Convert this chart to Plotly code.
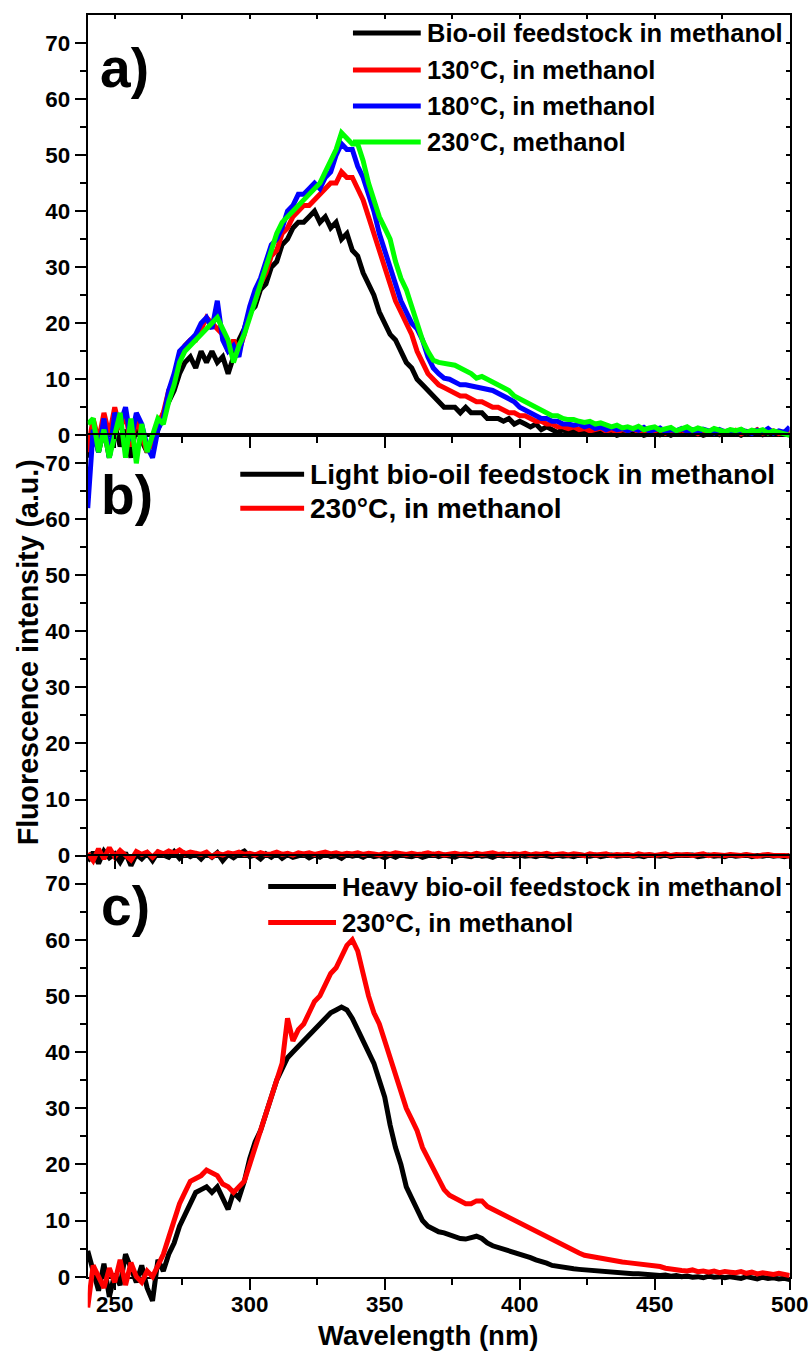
import plotly.graph_objects as go

# ---------------------------------------------------------------------------
# Fluorescence spectra (a.u.) sampled every 2 nm from 240 to 500 nm
# ---------------------------------------------------------------------------
WAVELENGTH = list(range(240, 501, 2))

# a) bio-oil feedstock and its products in methanol
FEED_A = [
    -4, 2, -3, 1, -4, 2, -2, 1, -4, 2,
    -1, -3, -1, 1, 4, 6, 8, 11, 13, 14,
    12, 15, 13, 15, 13, 14, 11, 14, 17, 19,
    22, 23, 26, 27, 30, 31, 34, 35, 37, 38,
    38, 39, 40, 38, 39, 37, 38, 35, 36, 33,
    32, 29, 27, 25, 22, 20, 18, 17, 15, 13,
    12, 10, 9, 8, 7, 6, 5, 5, 5, 4,
    5, 4, 4, 4, 3, 3, 3, 2.5, 3, 2,
    2.5, 2, 1.5, 2, 1, 1.5, 1, 0.5, 1, 0.5,
    0.8, 0.3, 0.6, 0.2, 0.5, 0.8, 0.2, 0.5, 0, 0.4,
    0.6, 0.2, 0.5, 0, 0.3, 0.6, 0.1, 0.4, 0, 0.5,
    0.3, 0.7, 0.2, 0.5, 0, 0.4, 0.6, 0.1, 0.5, 0.2,
    0.4, 0, 0.5, 0.3, 0.6, 0.1, 0.4, 0.2, 0.5, 0.3,
    0.4,
]
T130_A = [
    -3, 3, -1, 4, 0, 5, 1, 4, -2, 3,
    0, -3, -1, 2, 4, 8, 10, 13, 16, 17,
    17, 19, 21, 20, 19, 18, 15, 17, 15, 18,
    22, 24, 27, 29, 32, 33, 36, 37, 39, 40,
    41, 41, 42, 43, 44, 45, 45, 47, 46, 46,
    44, 42, 39, 36, 33, 30, 27, 24, 22, 20,
    18, 15, 13, 11, 10, 9, 8.5, 8, 7.5, 7,
    7, 6.5, 6, 6, 5.5, 5, 5, 4.5, 4, 4,
    3.5, 3.5, 3, 2.5, 2.5, 2, 2, 1.5, 1.5, 1.2,
    1.5, 1, 1.2, 0.8, 1, 1.3, 0.7, 1, 0.6, 1,
    0.8, 1.2, 0.6, 1, 0.5, 0.9, 1.1, 0.4, 0.8, 0.6,
    1, 0.5, 0.8, 0.3, 0.9, 0.6, 1.1, 0.4, 0.7, 0.5,
    0.9, 0.3, 0.7, 0.5, 1, 0.4, 0.6, 0.8, 0.3, 0.6,
    0.5,
]
T180_A = [
    -13, 1, -3, 3, -4, 4, 2, 5, -1, 4,
    2, -2, -4, 1, 3, 8, 11, 15, 16, 17,
    18, 20, 21, 19, 24, 17, 15, 16, 14, 19,
    23, 26, 28, 31, 34, 35, 37, 40, 41, 43,
    43, 44, 45, 44, 46, 47, 50, 52, 51, 51,
    48, 46, 43, 40, 36, 33, 30, 27, 24, 22,
    20, 19, 17, 14, 12, 11, 10.2, 10, 9.5, 9,
    9, 8.8, 8.6, 8.5, 8.2, 8, 7.5, 7, 6.5, 6,
    5, 4.5, 4, 3.5, 3, 3, 2.5, 2.5, 2, 2,
    1.8, 2, 1.5, 1.8, 1.2, 1.5, 1, 1.4, 1, 1.2,
    0.8, 1.2, 0.9, 1.4, 0.7, 1, 1.3, 0.6, 1, 0.8,
    1.2, 0.7, 1, 0.5, 1.1, 0.8, 0.4, 1, 0.6, 0.9,
    0.5, 1, 0.7, 0.3, 0.9, 0.6, 1.2, 0.4, 0.8, 0.5,
    1.5,
]
T230_A = [
    2, 3, -3, 1, -4, 0, 4, -4, 3, -5,
    2, -3, 0, 3, 2, 6, 9, 13, 15, 16,
    17, 18, 19, 20, 21, 19, 17, 13, 16, 18,
    21, 24, 27, 30, 33, 36, 38, 39, 40, 41,
    42, 43, 44, 45, 47, 49, 51, 54, 53, 52,
    52, 49, 45, 42, 39, 37, 35, 31, 28, 26,
    23, 20.5, 17, 15, 13.4, 13, 12.8, 12.7, 12.5, 12,
    11.6, 11, 10.2, 10.5, 10, 9.5, 9, 8.5, 8, 7,
    6.5, 6, 5.5, 5, 4.5, 4, 3.5, 3.5, 3, 2.8,
    2.8, 2.5, 2.3, 2.5, 2, 2.2, 1.8, 1.5, 1.8, 1.3,
    1.5, 1.2, 1.6, 1, 1.3, 1.5, 0.9, 1.2, 1.4, 0.8,
    1.2, 1.5, 0.9, 1.3, 1, 0.7, 1.2, 0.9, 0.6, 1,
    0.8, 1.1, 0.5, 0.9, 0.7, 1, 0.4, 0.8, 0.5, 0.3,
    0,
]

# b) light bio-oil fraction
LIGHT_B = [
    -1.0, 0.6, -1.4, 0.8, -0.4, 0.3, -1.2, 0.5, -1.8, 0.2,
    -0.6, 0.4, -0.9, 0.6, 0.1, -0.3, 0.7, -0.5, 0.4, -0.2,
    0.3, -0.6, 0.4, -0.3, 0.5, -0.9, 0.2, -0.4, 0.3, 0.8,
    -0.2, 0.1, -0.6, 0.3, -0.3, 0.4, -0.5, 0.2, -0.3, 0.0,
    0.2, -0.4, 0.1, -0.3, 0.3, -0.2, 0.0, -0.5, 0.2, -0.1,
    0.1, -0.3, 0.2, -0.2, 0.0, -0.4, 0.1, -0.3, 0.2, -0.1,
    -0.2, 0.1, -0.3, 0.0, 0.2, -0.2, 0.1, -0.1, -0.3, 0.1,
    0.0, -0.2, 0.2, -0.1, 0.0, -0.3, 0.1, -0.1, 0.2, -0.2,
    0.1, -0.1, 0.0, -0.2, 0.1, 0.0, -0.2, 0.1, -0.1, 0.0,
    -0.2, 0.1, 0.0, -0.1, 0.1, -0.2, 0.0, 0.1, -0.1, 0.0,
    0.1, -0.1, 0.0, -0.2, 0.1, 0.0, -0.1, 0.1, -0.2, 0.0,
    0.0, -0.1, 0.1, -0.2, 0.0, 0.1, -0.1, 0.0, -0.2, 0.1,
    -0.1, 0.0, 0.1, -0.2, 0.0, -0.1, 0.1, -0.1, 0.0, -0.2,
    0.0,
]
LIGHT_230_B = [
    0.4, -0.9, 1.2, -0.6, 1.4, -0.2, 0.9, 0.1, -0.8, 0.7,
    0.2, 0.6, -0.3, 0.7, 0.3, 0.8, 0.4, 1.0, 0.3, 0.6,
    0.5, 0.2, 0.6, -0.2, 0.4, 0.1, 0.5, 0.3, 0.6, 0.2,
    0.4, 0.1, 0.5, 0.2, 0.3, 0.6, 0.2, 0.4, 0.1, 0.5,
    0.3, 0.5, 0.2, 0.4, 0.6, 0.3, 0.5, 0.2, 0.4, 0.3,
    0.5, 0.2, 0.4, 0.3, 0.1, 0.4, 0.2, 0.5, 0.3, 0.2,
    0.4, 0.2, 0.3, 0.5, 0.2, 0.4, 0.1, 0.3, 0.4, 0.2,
    0.3, 0.1, 0.4, 0.2, 0.3, 0.5, 0.2, 0.3, 0.1, 0.3,
    0.2, 0.4, 0.1, 0.3, 0.2, 0.4, 0.1, 0.2, 0.3, 0.1,
    0.3, 0.2, 0.0, 0.3, 0.1, 0.2, 0.3, 0.0, 0.2, 0.1,
    0.2, 0.0, 0.3, 0.1, 0.2, 0.0, 0.1, 0.3, 0.0, 0.2,
    0.1, 0.2, 0.0, 0.1, 0.3, 0.0, 0.2, 0.1, 0.0, 0.2,
    0.1, 0.0, 0.2, 0.1, -0.1, 0.1, 0.2, 0.0, 0.1, 0.0,
    -0.1,
]

# c) heavy bio-oil fraction
HEAVY_C = [
    4.6, 1, -2.5, 2.3, -3.6, 0.5, -1.5, 4, 1.7, -1,
    2, -2, -4.3, 3, 1, 4, 6, 9, 11, 13,
    15, 15.5, 16, 15, 16, 14, 12, 15, 14, 17,
    21, 24, 26, 29, 32, 35, 37, 39, 40, 41,
    42, 43, 44, 45, 46, 47, 47.5, 48, 47.5, 46,
    44, 42, 40, 38, 35, 32, 27, 23, 20, 16,
    14, 12, 10, 9, 8.5, 8, 7.8, 7.5, 7, 6.8,
    6.7, 7, 7.2, 6.8, 6, 5.5, 5.2, 5, 4.6, 4.4,
    4.2, 3.8, 3.4, 3, 2.8, 2.4, 2, 1.8, 1.6, 1.5,
    1.4, 1.3, 1.2, 1.2, 1, 1, 0.9, 0.8, 0.8, 0.6,
    0.6, 0.5, 0.5, 0.4, 0.3, 0.3, 0.2, 0.3, 0.1, 0.2,
    0, 0.1, -0.1, 0, -0.2, 0.1, -0.1, 0, -0.2, 0,
    -0.1, -0.3, 0, -0.2, -0.4, -0.1, -0.3, -0.2, -0.4, -0.3,
    -0.5,
]
HEAVY_230_C = [
    -5.5, 2, 0, -2, 1.5, -1, 3, -1.5, 2.5, 0,
    -1, 1, 0, 2, 4, 7, 10, 13, 15, 17,
    17.5, 18, 19, 18.5, 18, 16.5, 16, 15, 16, 17,
    20, 23, 26, 29, 32, 35, 38, 46, 42, 44,
    45, 47, 49, 50, 52, 54, 55, 57, 59, 60,
    58, 54, 50, 47, 45, 42, 39, 36, 33, 30,
    28, 26, 23, 21, 19, 17, 15.5, 14.5, 14, 13.5,
    13, 13, 13.5, 13.5, 12.5, 12, 11.5, 11, 10.5, 10,
    9.5, 9, 8.5, 8, 7.6, 7, 6.5, 6, 5.5, 5,
    4.5, 4.2, 3.8, 3.6, 3.4, 3.2, 3, 2.8, 2.7, 2.6,
    2.5, 2.4, 2.2, 2.3, 2, 2, 1.8, 1.5, 1.3, 1.2,
    1.1, 1, 1.2, 0.9, 1, 0.8, 1, 0.7, 0.9, 0.8,
    0.7, 0.9, 0.6, 0.8, 0.5, 0.7, 0.5, 0.4, 0.6, 0.3,
    0.2,
]

X_TICKS = [250, 300, 350, 400, 450, 500]
X_MINOR = [275, 325, 375, 425, 475]
Y_TICKS = [0, 10, 20, 30, 40, 50, 60, 70]
Y_MINOR = [5, 15, 25, 35, 45, 55, 65]
X_RANGE = [240, 500]
Y_RANGE = [0, 75]

BLACK, RED, BLUE, GREEN = "#000000", "#ff0000", "#0000ff", "#00ff00"

# ---------------------------------------------------------------------------
# Geometry. Positions are given in screen pixels of the final 811 x 1358
# view; the page shows the figure at a slight reduction (SX, SY), so screen
# pixels are converted to figure pixels before use.
# ---------------------------------------------------------------------------
W, H = 811, 1358
SX, SY = 811 / 828, 1358 / 1372
TEXT_SCALE = 1.02
PLOT_LEFT, PLOT_RIGHT = 88, 792
PANEL_TOPS = [15, 435, 855]
PANEL_BOTTOMS = [435, 855, 1276]
PX_PER_UNIT = (PANEL_BOTTOMS[0] - PANEL_TOPS[0]) / (Y_RANGE[1] - Y_RANGE[0])
OVERHANG = 84  # curves may dip below a panel's zero line (screen px)


def fig_x(px):
    return px / SX


def fig_y(py):
    return py / SY


def fx(px):
    return fig_x(px) / W


def fy(py):
    return 1 - fig_y(py) / H


def fs(size):
    return round(size * TEXT_SCALE, 1)


FONT = "Liberation Sans, Arial, sans-serif"
TICK_FONT = dict(family=FONT, size=fs(22), color="black", weight="bold")

PANELS = [
    dict(tag="a)", tag_xy=(125, 68),
         series=[("Bio-oil feedstock in methanol", FEED_A, BLACK),
                 ("130°C, in methanol", T130_A, RED),
                 ("180°C, in methanol", T180_A, BLUE),
                 ("230°C, methanol", T230_A, GREEN)],
         legend=dict(x0=354, x1=422, tx=426, rows=[33, 70, 106, 142],
                     size=25)),
    dict(tag="b)", tag_xy=(127, 495),
         series=[("Light bio-oil feedstock in methanol", LIGHT_B, BLACK),
                 ("230°C, in methanol", LIGHT_230_B, RED)],
         legend=dict(x0=241, x1=305, tx=309, rows=[474, 508], size=27.5)),
    dict(tag="c)", tag_xy=(126, 905),
         series=[("Heavy bio-oil feedstock in methanol", HEAVY_C, BLACK),
                 ("230°C, in methanol", HEAVY_230_C, RED)],
         legend=dict(x0=269, x1=337, tx=341, rows=[886, 922], size=25.3)),
]

fig = go.Figure()
layout = {}
shapes = []
annotations = []


def anchor_trace(xref, yref):
    """Placeholder trace so that an axis pair without curves is still drawn."""
    return go.Scatter(x=[X_RANGE[0]], y=[None], mode="lines", xaxis=xref,
                      yaxis=yref, showlegend=False, hoverinfo="skip")


axis_common = dict(showgrid=False, zeroline=False, showline=True,
                   linewidth=2, linecolor="black", tickcolor="black",
                   tickwidth=2)

for i, panel in enumerate(PANELS):
    n = i + 1
    xname = "xaxis" if n == 1 else f"xaxis{n}"
    yname = "yaxis" if n == 1 else f"yaxis{n}"
    xref = "x" if n == 1 else f"x{n}"
    yref = "y" if n == 1 else f"y{n}"
    top_x, right_y, data_y = f"x{n + 3}", f"y{n + 3}", f"y{n + 6}"
    top, bottom = PANEL_TOPS[i], PANEL_BOTTOMS[i]
    # hidden data axis: same scale, extended below zero (in figure pixels)
    data_bottom_fig = min(fig_y(bottom + OVERHANG), H)
    data_min = -(data_bottom_fig - fig_y(bottom)) / fig_y(PX_PER_UNIT)

    # bottom x axis with outside ticks
    layout[xname] = dict(
        domain=[fx(PLOT_LEFT), fx(PLOT_RIGHT)], range=X_RANGE, anchor=yref,
        tickvals=X_TICKS, ticks="outside", ticklen=11,
        showticklabels=(n == 3), tickfont=TICK_FONT, ticklabeloverflow="allow",
        ticklabelstandoff=-5,
        minor=dict(tickvals=X_MINOR, ticks="outside", ticklen=6,
                   tickwidth=2, tickcolor="black"),
        **axis_common)
    # left y axis with outside ticks
    layout[yname] = dict(
        domain=[fy(bottom), fy(top)], range=Y_RANGE, anchor=xref,
        tickvals=Y_TICKS, ticks="outside", ticklen=11, tickfont=TICK_FONT,
        minor=dict(tickvals=Y_MINOR, ticks="outside", ticklen=6,
                   tickwidth=2, tickcolor="black"),
        **axis_common)
    # top and right frame edges with short inward ticks
    layout["xaxis" + top_x[1:]] = dict(
        overlaying=xref, side="top", anchor=yref, range=X_RANGE,
        tickvals=X_TICKS + X_MINOR, ticks="inside", ticklen=4,
        showticklabels=False, **axis_common)
    layout["yaxis" + right_y[1:]] = dict(
        overlaying=yref, side="right", anchor=xref, range=Y_RANGE,
        tickvals=Y_TICKS + Y_MINOR, ticks="inside", ticklen=4,
        showticklabels=False, **axis_common)
    layout["yaxis" + data_y[1:]] = dict(
        domain=[1 - data_bottom_fig / H, fy(top)],
        range=[data_min, Y_RANGE[1]],
        anchor=xref, visible=False, showgrid=False, zeroline=False)

    fig.add_trace(anchor_trace(xref, yref))
    fig.add_trace(anchor_trace(top_x, yref))
    fig.add_trace(anchor_trace(xref, right_y))

    for label, values, color in panel["series"]:
        fig.add_trace(go.Scatter(
            x=WAVELENGTH, y=values, mode="lines", name=label,
            line=dict(color=color, width=5),
            xaxis=xref, yaxis=data_y, showlegend=False, hoverinfo="skip"))

    # legend block
    lg = panel["legend"]
    for (label, _, color), row in zip(panel["series"], lg["rows"]):
        shapes.append(dict(type="line", xref="paper", yref="paper",
                           x0=fx(lg["x0"]), x1=fx(lg["x1"]),
                           y0=fy(row), y1=fy(row),
                           line=dict(color=color, width=5)))
        annotations.append(dict(
            text=label, xref="paper", yref="paper", x=fx(lg["tx"]), y=fy(row),
            xanchor="left", yanchor="middle", showarrow=False,
            font=dict(family=FONT, size=fs(lg["size"]), color="black",
                      weight="bold")))

    # panel tag
    tx, ty = panel["tag_xy"]
    annotations.append(dict(
        text=panel["tag"], xref="paper", yref="paper", x=fx(tx), y=fy(ty),
        xanchor="center", yanchor="middle", showarrow=False,
        font=dict(family=FONT, size=fs(54), color="black", weight="bold")))

# axis titles
annotations.append(dict(
    text="Wavelength (nm)", xref="paper", yref="paper", x=fx(430), y=fy(1335),
    xanchor="center", yanchor="middle", showarrow=False,
    font=dict(family=FONT, size=fs(27), color="black", weight="bold")))
annotations.append(dict(
    text="Fluorescence intensity (a.u.)", xref="paper", yref="paper",
    x=fx(29), y=fy(652), xanchor="center", yanchor="middle", textangle=-90,
    showarrow=False,
    font=dict(family=FONT, size=fs(28), color="black", weight="bold")))

fig.update_layout(
    width=W, height=H, autosize=False,
    margin=dict(l=0, r=0, t=0, b=0, pad=0),
    paper_bgcolor="white", plot_bgcolor="rgba(0,0,0,0)",
    font=dict(family=FONT, color="black"),
    shapes=shapes, annotations=annotations,
    **layout)

fig.write_html("out.html")
